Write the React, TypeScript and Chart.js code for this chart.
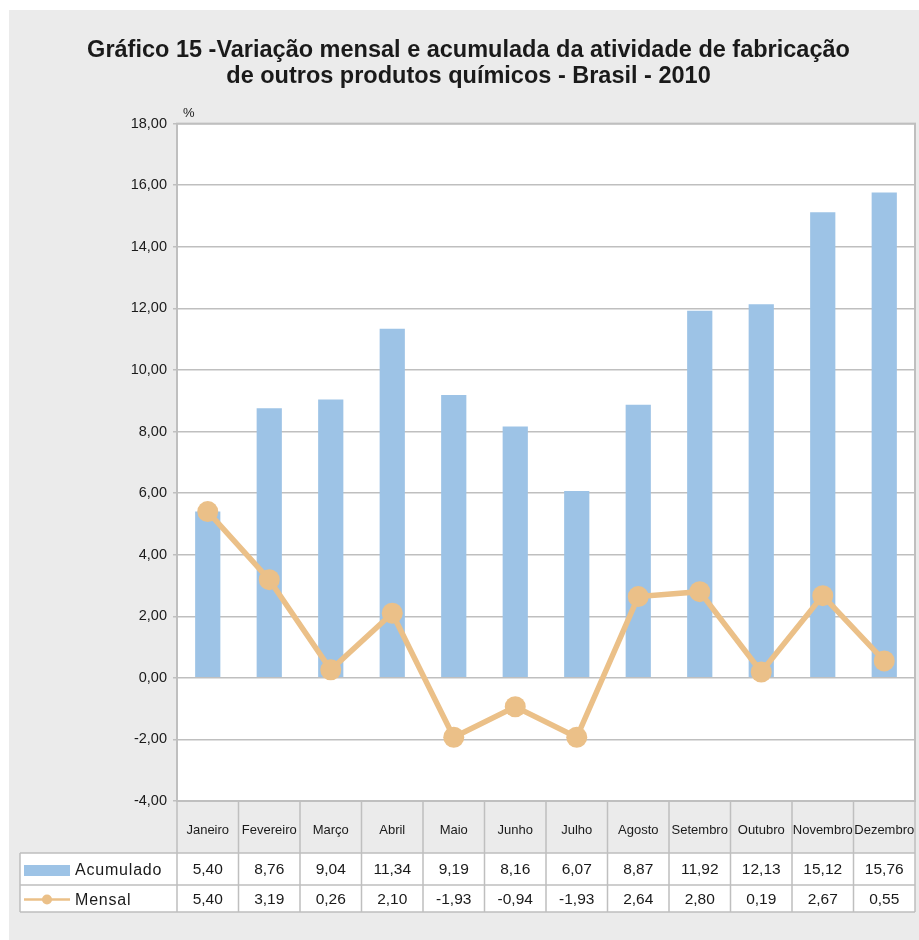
import React, { useEffect, useRef } from 'react';
import { Chart, registerables } from 'chart.js';

Chart.register(...registerables);

const months = ['Janeiro', 'Fevereiro', 'Março', 'Abril', 'Maio', 'Junho', 'Julho', 'Agosto', 'Setembro', 'Outubro', 'Novembro', 'Dezembro'];
const acumulado = [5.40, 8.76, 9.04, 11.34, 9.19, 8.16, 6.07, 8.87, 11.92, 12.13, 15.12, 15.76];
const mensal = [5.40, 3.19, 0.26, 2.10, -1.93, -0.94, -1.93, 2.64, 2.80, 0.19, 2.67, 0.55];
const seriesNames = ['Acumulado', 'Mensal'];
const titleLines = ['Gráfico 15 -Variação mensal e acumulada da atividade de fabricação', 'de outros produtos químicos - Brasil - 2010'];
const unitLabel = '%';
const yMin = -4;
const yMax = 18;
const yStep = 2;

const BLUE = '#9dc3e6';
const ORANGE = '#ebc088';
const GRID = '#bfbfbf';
const PAGE = '#ebebeb';
const TEXT = '#1a1a1a';
const FONT = '"Liberation Sans", Arial, sans-serif';

const fmt = (v: number) => v.toFixed(2).replace('.', ',');

const HEADER_H = 52;
const ROW1_H = 32;
const ROW2_H = 27;
const TABLE_LEFT = 20;

const framePlugin = {
  id: 'frameTable',
  beforeDraw(chart: any) {
    const { ctx, width, height, chartArea } = chart;
    ctx.save();
    ctx.fillStyle = '#ffffff';
    ctx.fillRect(0, 0, width, height);
    ctx.fillStyle = PAGE;
    ctx.fillRect(9, 10, width - 9, height - 10);
    ctx.fillStyle = '#ffffff';
    ctx.fillRect(chartArea.left, chartArea.top, chartArea.right - chartArea.left, chartArea.bottom - chartArea.top);
    ctx.restore();
  },
  beforeDatasetsDraw(chart: any) {
    const { ctx, chartArea } = chart;
    ctx.save();
    ctx.strokeStyle = GRID;
    ctx.lineWidth = 2;
    ctx.strokeRect(chartArea.left, chartArea.top, chartArea.right - chartArea.left, chartArea.bottom - chartArea.top);
    ctx.fillStyle = TEXT;
    ctx.font = `13px ${FONT}`;
    ctx.textAlign = 'left';
    ctx.textBaseline = 'alphabetic';
    ctx.fillText(unitLabel, chartArea.left + 6, chartArea.top - 7);
    ctx.restore();
  },
  afterDraw(chart: any) {
    const { ctx, chartArea } = chart;
    const xs = chart.scales.x;
    const { left, right, bottom } = chartArea;
    const w = (right - left) / months.length;
    const hb = bottom + HEADER_H;
    const r1 = hb + ROW1_H;
    const r2 = r1 + ROW2_H;
    ctx.save();
    ctx.fillStyle = '#ffffff';
    ctx.fillRect(TABLE_LEFT, hb, right - TABLE_LEFT, r2 - hb);
    ctx.strokeStyle = GRID;
    ctx.lineWidth = 1.5;
    ctx.beginPath();
    for (let i = 0; i <= months.length; i++) {
      const x = i < months.length ? xs.getPixelForValue(i) - w / 2 : xs.getPixelForValue(months.length - 1) + w / 2;
      ctx.moveTo(x, bottom);
      ctx.lineTo(x, r2);
    }
    ctx.moveTo(TABLE_LEFT, hb);
    ctx.lineTo(TABLE_LEFT, r2);
    [hb, r1, r2].forEach((y) => {
      ctx.moveTo(TABLE_LEFT, y);
      ctx.lineTo(right, y);
    });
    ctx.stroke();

    // values
    ctx.fillStyle = TEXT;
    ctx.font = `15.5px ${FONT}`;
    ctx.textAlign = 'center';
    ctx.textBaseline = 'middle';
    const rows = [acumulado, mensal];
    const centers = [(hb + r1) / 2 + 1, (r1 + r2) / 2 + 1];
    rows.forEach((arr, ri) => {
      arr.forEach((v, i) => {
        ctx.fillText(fmt(v), xs.getPixelForValue(i), centers[ri]);
      });
    });

    // legend
    const ds0 = chart.data.datasets[1];
    const ds1 = chart.data.datasets[0];
    ctx.fillStyle = ds0.backgroundColor;
    ctx.fillRect(24, centers[0] - 5, 46, 11);
    ctx.strokeStyle = ds1.borderColor;
    ctx.lineWidth = 2.5;
    ctx.beginPath();
    ctx.moveTo(24, centers[1]);
    ctx.lineTo(70, centers[1]);
    ctx.stroke();
    ctx.fillStyle = ds1.pointBackgroundColor;
    ctx.beginPath();
    ctx.arc(47, centers[1], 5, 0, Math.PI * 2);
    ctx.fill();

    ctx.fillStyle = TEXT;
    ctx.font = `16px ${FONT}`;
    (ctx as any).letterSpacing = '0.8px';
    ctx.textAlign = 'left';
    ctx.fillText(seriesNames[0], 75, centers[0] + 1);
    ctx.fillText(seriesNames[1], 75, centers[1] + 1);
    ctx.restore();
  },
};

export default function App() {
  const ref = useRef<HTMLCanvasElement | null>(null);
  useEffect(() => {
    if (!ref.current) return;
    const chart = new Chart(ref.current, {
      type: 'bar',
      data: {
        labels: months,
        datasets: [
          {
            type: 'line',
            label: seriesNames[1],
            data: mensal,
            borderColor: ORANGE,
            backgroundColor: ORANGE,
            pointBackgroundColor: ORANGE,
            pointBorderWidth: 0,
            pointRadius: 10.5,
            borderWidth: 5.5,
            tension: 0,
            clip: false,
            order: 0,
          } as any,
          {
            type: 'bar',
            label: seriesNames[0],
            data: acumulado,
            backgroundColor: BLUE,
            borderWidth: 0,
            categoryPercentage: 1,
            barPercentage: 0.41,
            order: 1,
          } as any,
        ],
      },
      options: {
        animation: false,
        responsive: false,
        maintainAspectRatio: false,
        layout: { autoPadding: false, padding: { left: 22, right: 4, top: 0, bottom: 940 - 801 - HEADER_H } },
        plugins: {
          legend: { display: false },
          tooltip: { enabled: false },
          title: {
            display: true,
            text: titleLines,
            color: TEXT,
            font: { family: '"Liberation Sans Narrow", "Arial Narrow", sans-serif', size: 23.5, weight: 'bold', lineHeight: 1.12 },
            padding: { top: 37, bottom: 34 },
          },
        },
        scales: {
          x: {
            grid: { display: false, drawTicks: false },
            border: { display: false },
            ticks: { color: TEXT, font: { family: FONT, size: 13 }, padding: 22, maxRotation: 0, autoSkip: false },
            afterFit: (s: any) => {
              s.height = HEADER_H;
              s.paddingLeft = 0;
              s.paddingRight = 0;
            },
          },
          y: {
            min: yMin,
            max: yMax,
            grid: { color: GRID, lineWidth: 1.5, tickLength: 4, tickColor: GRID },
            border: { display: true, color: GRID, width: 2 },
            ticks: {
              stepSize: yStep,
              color: TEXT,
              font: { family: FONT, size: 14.5 },
              padding: 6,
              callback: (v: any) => fmt(Number(v)),
            },
            afterFit: (s: any) => {
              s.width = 177 - 22;
              s.paddingTop = 0;
              s.paddingBottom = 0;
            },
          },
        },
      },
      plugins: [framePlugin],
    });
    return () => chart.destroy();
  }, []);
  return (
    <div style={{ position: 'absolute', left: 0, top: 0, width: 919, height: 940 }}>
      <canvas ref={ref} width={919} height={940} style={{ display: 'block', width: 919, height: 940 }} />
    </div>
  );
}
